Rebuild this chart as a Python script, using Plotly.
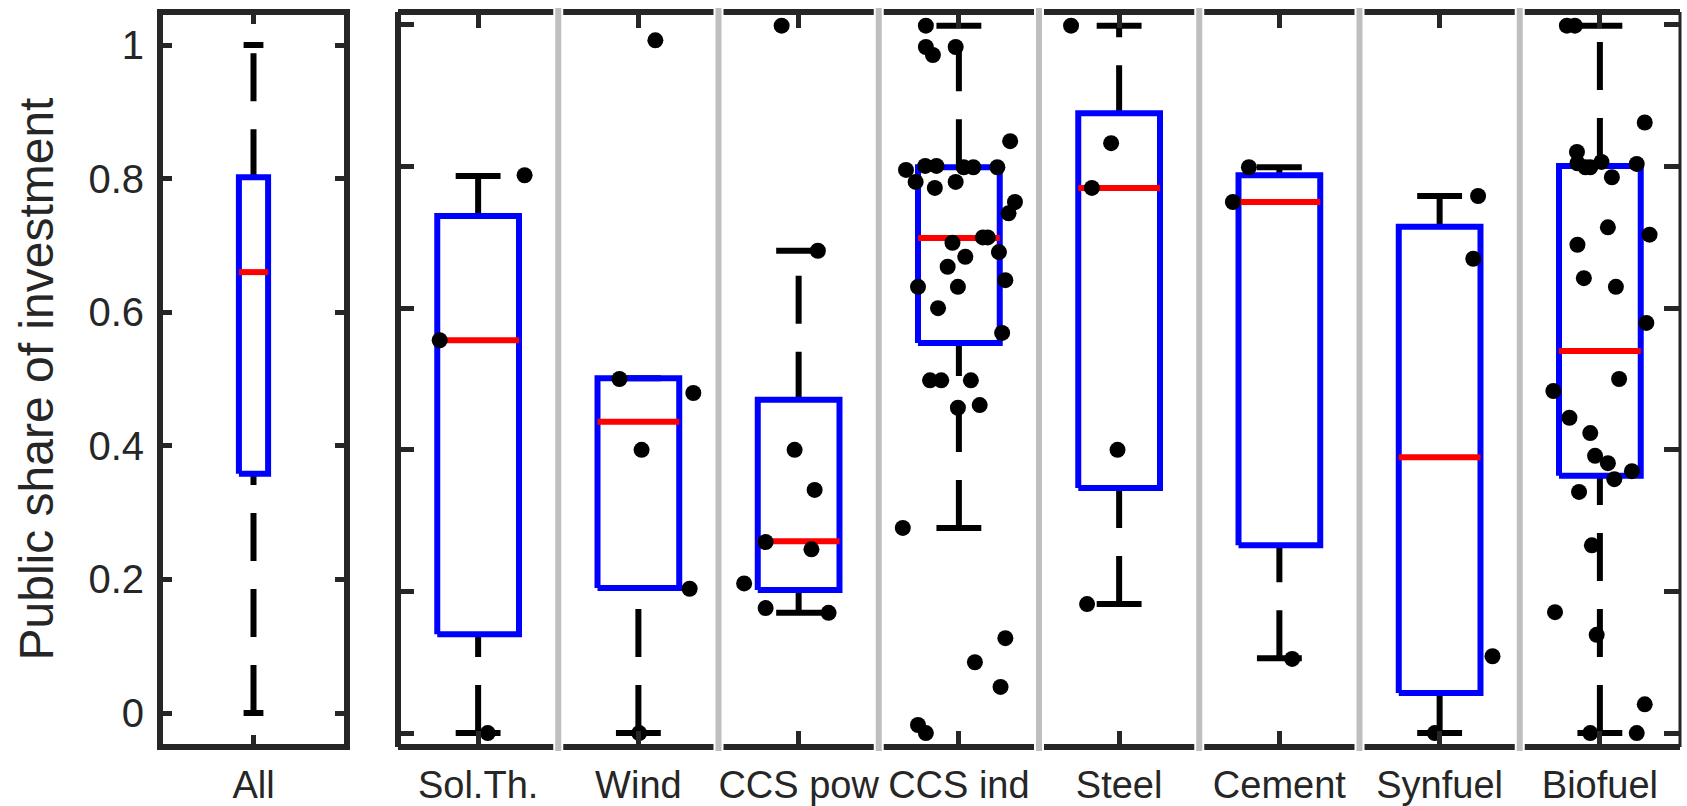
import plotly.graph_objects as go

# ---------------- data ----------------
all_label = ["All"]
all_lo = [0.0]
all_q1 = [0.358]
all_med = [0.660]
all_q3 = [0.802]
all_hi = [1.0]

categories = ["Sol.Th.", "Wind", "CCS pow", "CCS ind", "Steel", "Cement", "Synfuel", "Biofuel"]
lower_whisker = [-0.030, -0.030, 0.150, 0.277, 0.163, 0.082, -0.030, -0.030]
q1 = [0.118, 0.187, 0.184, 0.554, 0.337, 0.251, 0.030, 0.355]
median = [0.558, 0.436, 0.257, 0.711, 0.786, 0.765, 0.383, 0.542]
q3 = [0.744, 0.501, 0.469, 0.817, 0.898, 0.805, 0.728, 0.819]
upper_whisker = [0.804, 0.501, 0.692, 1.029, 1.029, 0.817, 0.774, 1.029]

solth_vals = [0.558, 0.805, -0.030]
solth_jit = [-0.24, 0.29, 0.06]
wind_vals = [1.007, 0.500, 0.479, 0.394, 0.186, -0.030]
wind_jit = [0.106, -0.118, 0.343, 0.02, 0.32, 0.005]
ccspow_vals = [1.029, 0.692, 0.394, 0.334, 0.256, 0.245, 0.194, 0.157, 0.150]
ccspow_jit = [-0.106, 0.12, -0.025, 0.10, -0.206, 0.08, -0.34, -0.206, 0.187]
ccsind_vals = [1.029, 0.997, 0.985, 0.997, 0.813, 0.795, 0.819, 0.819, 0.786, 0.795,
               0.817, 0.817, 0.817, 0.856, 0.765, 0.748, 0.712, 0.712, 0.704, 0.683,
               0.668, 0.690, 0.648, 0.638, 0.638, 0.606, 0.569, 0.498, 0.498, 0.498,
               0.457, 0.461, 0.277, 0.112, 0.076, 0.039, -0.018, -0.030]
ccsind_jit = [-0.206, -0.206, -0.162, -0.02, -0.33, -0.27, -0.21, -0.14, -0.15, -0.02,
              0.03, 0.09, 0.24, 0.32, 0.35, 0.31, 0.15, 0.18, -0.04, 0.04,
              -0.07, 0.25, 0.29, -0.255, -0.006, -0.13, 0.27, -0.18, -0.11, 0.075,
              -0.006, 0.13, -0.35, 0.29, 0.10, 0.26, -0.255, -0.206]
steel_vals = [1.029, 0.853, 0.786, 0.394, 0.163]
steel_jit = [-0.30, -0.05, -0.17, -0.01, -0.20]
cement_vals = [0.817, 0.765, 0.081]
cement_jit = [-0.19, -0.29, 0.08]
synfuel_vals = [0.774, 0.680, 0.085, -0.030]
synfuel_jit = [0.24, 0.21, 0.33, -0.03]
biofuel_vals = [1.029, 1.029, 0.884, 0.840, 0.823, 0.817, 0.817, 0.825, 0.822, 0.802,
                0.727, 0.716, 0.701, 0.651, 0.638, 0.584, 0.500, 0.482, 0.442, 0.419,
                0.385, 0.374, 0.350, 0.362, 0.331, 0.251, 0.151, 0.117, 0.013, -0.030, -0.030]
biofuel_jit = [-0.206, -0.156, 0.28, -0.143, -0.14, -0.09, -0.06, 0.01, 0.23, 0.075,
               0.05, 0.31, -0.14, -0.10, 0.10, 0.29, 0.12, -0.29, -0.19, -0.06,
               -0.03, 0.05, 0.09, 0.20, -0.13, -0.05, -0.28, -0.02, 0.28, -0.06, 0.23]

point_vals = [solth_vals, wind_vals, ccspow_vals, ccsind_vals, steel_vals,
              cement_vals, synfuel_vals, biofuel_vals]
point_jit = [solth_jit, wind_jit, ccspow_jit, ccsind_jit, steel_jit,
             cement_jit, synfuel_jit, biofuel_jit]

left_yticks = [0, 0.2, 0.4, 0.6, 0.8, 1]
left_yticklabels = ["0", "0.2", "0.4", "0.6", "0.8", "1"]
right_yticks = [-0.03, 0.182, 0.394, 0.606, 0.818, 1.03]
y_title = "Public share of investment"

# ---------------- styling ----------------
W, H = 1687, 806
DARK = "#262626"
BLUE = "#0000ff"
RED = "#ff0000"
GRAY = "#bfbfbf"
FONT = "Liberation Sans"
Y_RANGE = [-0.0509, 1.0494]
DASH = "48px,28px"

def px_x(p):
    return p / W

def px_y(p):
    return 1 - p / H

fig = go.Figure()


def add_boxes(xs, lo, b1, med, b3, hi, half_box, half_cap, xa, ya):
    # whiskers (dash pattern starts at the lower end)
    for x, a, b, c, d in zip(xs, lo, b1, b3, hi):
        for y0, y1 in ((a, b), (c, d)):
            fig.add_trace(go.Scatter(x=[x, x], y=[y0, y1], mode="lines",
                                     line=dict(color="black", width=6, dash=DASH),
                                     xaxis=xa, yaxis=ya, hoverinfo="skip"))
    # caps
    cx, cy = [], []
    for x, a, d in zip(xs, lo, hi):
        cx += [x - half_cap, x + half_cap, None, x - half_cap, x + half_cap, None]
        cy += [a, a, None, d, d, None]
    fig.add_trace(go.Scatter(x=cx, y=cy, mode="lines", line=dict(color="black", width=6),
                             xaxis=xa, yaxis=ya, hoverinfo="skip"))
    # boxes
    for x, b, c in zip(xs, b1, b3):
        fig.add_trace(go.Scatter(x=[x - half_box, x + half_box, x + half_box, x - half_box, x - half_box],
                                 y=[b, b, c, c, b], mode="lines",
                                 line=dict(color=BLUE, width=6),
                                 xaxis=xa, yaxis=ya, hoverinfo="skip"))
    # medians
    mx, my = [], []
    for x, m in zip(xs, med):
        mx += [x - half_box, x + half_box, None]
        my += [m, m, None]
    fig.add_trace(go.Scatter(x=mx, y=my, mode="lines", line=dict(color=RED, width=6),
                             xaxis=xa, yaxis=ya, hoverinfo="skip"))


add_boxes([1], all_lo, all_q1, all_med, all_q3, all_hi, 0.078, 0.053, "x", "y")
xs = list(range(1, len(categories) + 1))
add_boxes(xs, lower_whisker, q1, median, q3, upper_whisker, 0.255, 0.14, "x2", "y2")

# jittered points
for i, (vals, jit) in enumerate(zip(point_vals, point_jit)):
    fig.add_trace(go.Scatter(x=[i + 1 + j for j in jit], y=vals, mode="markers",
                             marker=dict(color="black", size=16, line=dict(width=0)),
                             xaxis="x2", yaxis="y2", hoverinfo="skip"))

ydom = [px_y(747), px_y(12)]
common = dict(showgrid=False, zeroline=False, showline=False, ticks="inside",
              tickcolor=DARK, tickwidth=5, mirror="ticks", fixedrange=True)

fig.update_layout(
    width=W, height=H, margin=dict(l=0, r=0, t=0, b=0),
    plot_bgcolor="white", paper_bgcolor="white", showlegend=False,
    xaxis=dict(domain=[px_x(160), px_x(347)], range=[0.5, 1.5], anchor="y",
               tickvals=[1], ticktext=all_label, ticklen=12, ticklabelstandoff=12,
               tickfont=dict(family=FONT, size=38, color=DARK), **common),
    yaxis=dict(domain=ydom, range=Y_RANGE, anchor="x",
               tickvals=left_yticks, ticktext=left_yticklabels, ticklen=12,
               ticklabelstandoff=15,
               tickfont=dict(family=FONT, size=40, color=DARK), **common),
    xaxis2=dict(domain=[px_x(398), px_x(1680)], range=[0.5, len(categories) + 0.5], anchor="y2",
                tickvals=xs, ticktext=categories, ticklen=16, ticklabelstandoff=12,
                tickfont=dict(family=FONT, size=38, color=DARK), **common),
    yaxis2=dict(domain=ydom, range=Y_RANGE, anchor="x2",
                tickvals=right_yticks, showticklabels=False, ticklen=16, **common),
)

shapes = []
# left frame
shapes.append(dict(type="rect", xref="paper", yref="paper",
                   x0=px_x(160), x1=px_x(347), y0=px_y(747), y1=px_y(12),
                   line=dict(color=DARK, width=6), layer="above"))
# right frame (left, top, bottom thick; right thin)
for (x0, y0, x1, y1, w) in [(398, 747, 398, 12, 6), (398, 12, 1680, 12, 6),
                            (398, 747, 1680, 747, 6), (1680, 747, 1680, 12, 3)]:
    shapes.append(dict(type="line", xref="paper", yref="paper",
                       x0=px_x(x0), x1=px_x(x1), y0=px_y(y0), y1=px_y(y1),
                       line=dict(color=DARK, width=w), layer="above"))
# separators between categories
for k in range(1, len(categories)):
    for col, w in (("white", 10), (GRAY, 6)):
        shapes.append(dict(type="line", xref="x2", yref="paper",
                           x0=k + 0.5, x1=k + 0.5, y0=px_y(751), y1=px_y(8),
                           line=dict(color=col, width=w), layer="above"))
fig.update_layout(shapes=shapes)

fig.add_annotation(text=y_title, xref="paper", yref="paper", x=px_x(36), y=px_y(379.5),
                   textangle=-90, showarrow=False, xanchor="center", yanchor="middle",
                   font=dict(family=FONT, size=48, color=DARK))

fig.write_html("out.html", config={"displayModeBar": False},
               post_script="document.body.style.margin='0px';document.body.style.overflow='hidden';")
